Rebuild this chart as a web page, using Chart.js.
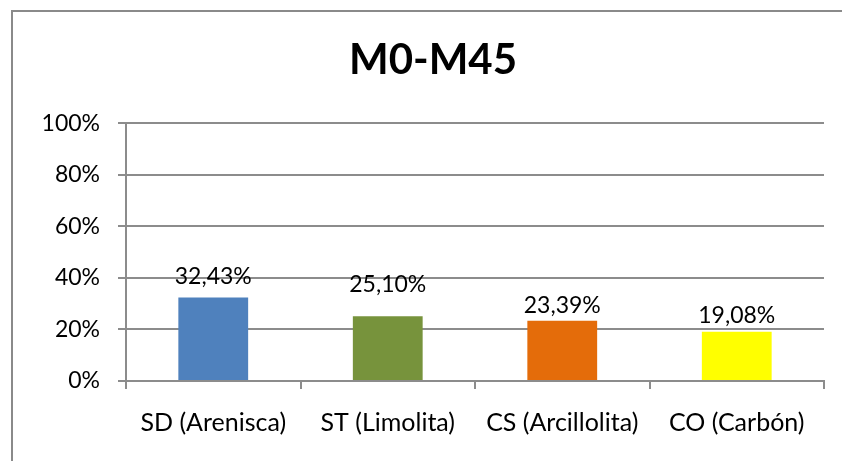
<!DOCTYPE html>
<html>
<head>
<meta charset="utf-8">
<script src="https://cdn.jsdelivr.net/npm/chart.js@4"></script>
<style>
  html, body { margin:0; padding:0; background:#fff; overflow:hidden; }
  #wrap { position:relative; width:842px; height:461px; }
  #frame { position:absolute; left:11px; top:10px; width:900px; height:500px; border:2px solid #8a8a8a; box-sizing:border-box; }
  canvas { position:absolute; left:0; top:0; }
</style>
</head>
<body>
<div id="wrap">
  <div id="frame"></div>
  <canvas id="chart" width="842" height="461"></canvas>
</div>
<script>
// ── Data ─────────────────────────────────────────────
const CATEGORIES = ["SD (Arenisca)", "ST (Limolita)", "CS (Arcillolita)", "CO (Carbón)"];
const VALUES     = [32.43, 25.10, 23.39, 19.08];
const Y_TICKS    = [0, 20, 40, 60, 80, 100];
const BAR_COLORS = ["#4F81BD", "#77933C", "#E46C0A", "#FFFF00"];

const FONT = "Lato, 'Open Sans', sans-serif";
const GRID = "#8c8c8c";

// labels above bars, written with a comma decimal like the original
const barLabels = {
  id: "barLabels",
  afterDatasetsDraw(chart, args, opts) {
    const ctx = chart.ctx;
    const meta = chart.getDatasetMeta(0);
    ctx.save();
    ctx.font = "23px " + FONT;
    ctx.fillStyle = "#000";
    ctx.textAlign = "center";
    ctx.textBaseline = "alphabetic";
    meta.data.forEach((bar, i) => {
      const v = chart.data.datasets[0].data[i];
      const gap = opts.gaps[i] ?? 10;
      ctx.fillText(v.toFixed(2).replace(".", ",") + "%", bar.x, bar.y - gap);
    });
    ctx.restore();
  }
};

new Chart(document.getElementById("chart"), {
  type: "bar",
  data: {
    labels: CATEGORIES,
    datasets: [{
      data: VALUES,
      backgroundColor: BAR_COLORS,
      borderWidth: 0,
      barPercentage: 0.4,
      categoryPercentage: 1
    }]
  },
  options: {
    responsive: false,
    animation: false,
    layout: { padding: { left: 42, right: 18, top: 10, bottom: 4 } },
    plugins: {
      legend: { display: false },
      tooltip: { enabled: false },
      title: {
        display: true,
        text: "M0-M45",
        color: "#000",
        font: { family: FONT, size: 42, weight: "bold" },
        padding: { top: 25, bottom: 38 }
      },
      barLabels: { gaps: [13, 24, 8, 9] }
    },
    scales: {
      y: {
        min: 0, max: 100,
        afterBuildTicks: s => { s.ticks = Y_TICKS.map(v => ({ value: v })); },
        afterFit: s => { s.width = 84; },
        ticks: {
          color: "#000",
          font: { family: FONT, size: 23 },
          padding: 18,
          callback: v => v + "%"
        },
        grid: { color: GRID, lineWidth: 2, tickLength: 8 },
        border: { color: GRID, width: 2 }
      },
      x: {
        offset: true,
        ticks: {
          color: "#000",
          font: { family: FONT, size: 25 },
          padding: 19,
          maxRotation: 0
        },
        grid: { drawOnChartArea: false, color: GRID, lineWidth: 2, tickLength: 8, offset: true },
        border: { color: GRID, width: 2 }
      }
    }
  },
  plugins: [barLabels]
});
</script>
</body>
</html>
